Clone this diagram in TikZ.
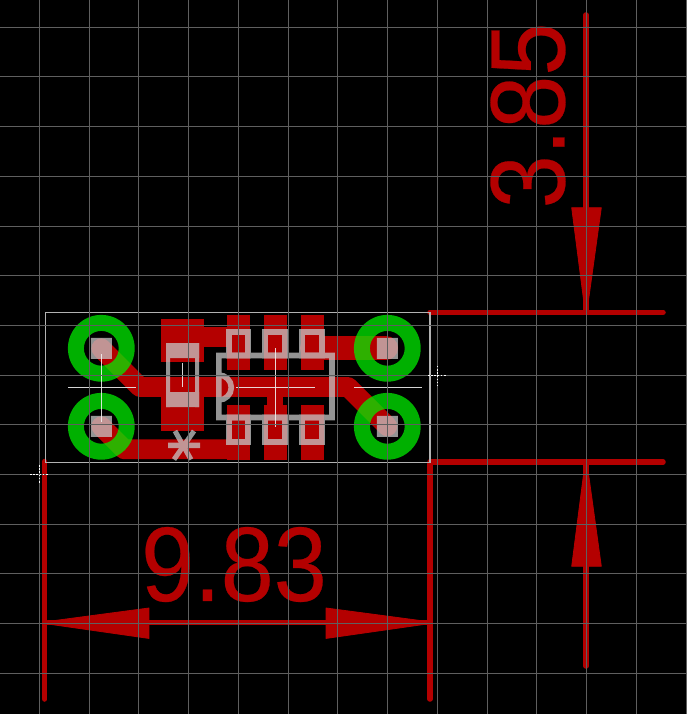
\documentclass[tikz,border=0pt]{standalone}
\usepackage{fontspec}
\setmainfont{Liberation Sans}
\newfontfamily\dimfont[FakeBold=0.25]{Liberation Sans}
\definecolor{copper}{HTML}{B40000}
\definecolor{gridc}{HTML}{5F5F5F}
\definecolor{silk}{HTML}{C6C6C6}
\definecolor{padg}{HTML}{00EE00}
\tikzset{
  trace/.style={draw=copper,line cap=round,line join=round},
  copperfill/.style={fill=copper,draw=none},
  dimline/.style={draw=copper,line width=5.5pt,line cap=round},
  dimhead/.style={fill=copper,draw=copper,line width=.8pt,line join=round},
  gridline/.style={draw=gridc,line width=1pt},
  outline/.style={draw=silk!90!black,line width=1.3pt},
  silkline/.style={draw=silk,line width=5.6pt},
  xhair/.style={draw=white!95!black,line width=1.3pt,opacity=.88},
  origin/.style={draw=white,line width=1pt,dash pattern=on 1.6pt off 1.6pt},
  dimtext/.style={text=copper,inner sep=0pt,font=\dimfont\fontsize{106}{106}\selectfont}
}
\begin{document}
\begin{tikzpicture}[x=1pt,y=-1pt]
\useasboundingbox (0,0) rectangle (687,714);
\fill[black] (0,0) rectangle (687,714);
% copper
\foreach \xa/\xb in {227/250,264/287,301/324}{
  \fill[copperfill] (\xa,315) rectangle (\xb,370);
  \fill[copperfill] (\xa,405) rectangle (\xb,460);
}
\fill[copperfill] (161,319) rectangle (204,362);
\fill[copperfill] (161,388) rectangle (204,431);
\fill[copperfill] (204,327) rectangle (227,347);
\fill[copperfill] (267,397) rectangle (283,405);
\draw[trace,line width=19.8pt] (101.3,348.3) -- (140,387) -- (348,387) -- (387.3,426.3);
\draw[trace,line width=19.8pt] (101.3,426.3) -- (124.3,449.3) -- (238,449.3);
\draw[trace,line width=24pt] (312,348) -- (386,348);
% pads
\begin{scope}[opacity=.74]
\fill[padg,even odd rule] (101.3,348.3) circle[radius=33.4] (101.3,348.3) circle[radius=17.4];
\fill[padg,even odd rule] (101.3,426.3) circle[radius=33.4] (101.3,426.3) circle[radius=17.4];
\fill[padg,even odd rule] (387.3,348.3) circle[radius=33.4] (387.3,348.3) circle[radius=17.4];
\fill[padg,even odd rule] (387.3,426.3) circle[radius=33.4] (387.3,426.3) circle[radius=17.4];
\end{scope}
% silk / outline layer
\begin{scope}[transparency group,opacity=.75]
\foreach \cx/\cy in {101.3/348.3,101.3/426.3,387.3/348.3,387.3/426.3}{
  \fill[silk] (\cx-10.5,\cy-10.5) rectangle (\cx+10.5,\cy+10.5);
}
\draw[silkline] (218.8,355.5) rectangle (332,417.5);
\draw[silkline] (218.8,375) arc[start angle=-90,end angle=90,radius=12.5];
\foreach \xa/\xb in {229/248,265/285,302/322}{
  \draw[silkline] (\xa,332) rectangle (\xb,355.5);
  \draw[silkline] (\xa,417.5) rectangle (\xb,442);
}
\fill[silk] (166,343) rectangle (199,358);
\fill[silk] (166,392) rectangle (199,407);
\fill[silk] (166,343) rectangle (170,407);
\fill[silk] (195,343) rectangle (199,407);
\draw[silk,line width=5.4pt] (168,445.3) -- (200,445.3);
\draw[silk,line width=5pt] (175,431) -- (191,459.5);
\draw[silk,line width=5pt] (194,431) -- (174,459.5);
\end{scope}
% centre crosses
\draw[xhair] (68,387.3) -- (136,387.3);
\draw[xhair] (101.3,354) -- (101.3,421.7);
\draw[xhair] (354,387.3) -- (421.7,387.3);
\draw[xhair] (236,387.3) -- (315,387.3);
\draw[xhair] (275.3,348) -- (275.3,426.7);
\draw[xhair] (182.3,363) -- (182.3,386.7);
% dimensions
\draw[dimline] (44.7,461.5) -- (44.7,699);
\draw[dimline] (430,464) -- (430,699);
\draw[dimline] (430,312.3) -- (663,312.3);
\draw[dimline] (430,462) -- (663,462);
\draw[dimline] (586,15) -- (586,312);
\draw[dimline] (586,462) -- (586,666);
\draw[dimline] (48,622.7) -- (428,622.7);
\fill[dimhead] (571.7,207.7) -- (601.3,207.7) -- (587,311) -- (585,311) -- cycle;
\fill[dimhead] (571.7,566.3) -- (601.3,566.3) -- (587,463) -- (585,463) -- cycle;
\fill[dimhead] (148.9,608) -- (148.9,638.4) -- (46,623.7) -- (46,621.7) -- cycle;
\fill[dimhead] (326.1,608) -- (326.1,638.4) -- (429,623.7) -- (429,621.7) -- cycle;
\node[dimtext,xscale=.9] (widthlabel) at (234,564.5) {9.83};
\node[dimtext,rotate=90,xscale=.9] (heightlabel) at (528,115.5) {3.85};
% board outline
\draw[outline] (45.7,312.7) rectangle (430,462.3);
% grid on top
\foreach \gx in {39,89,138,188,238,288,337,387,437,487,536,586,636,686}{
  \draw[gridline] (\gx+.5,0) -- (\gx+.5,714);
}
\foreach \gy in {27,76,126,176,226,275,325,375,424,474,524,573,623,673}{
  \draw[gridline] (0,\gy+.5) -- (687,\gy+.5);
}
% origin marks
\draw[origin] (30,474.5) -- (49,474.5);
\draw[origin] (39.5,465) -- (39.5,484);
\draw[origin] (428,375.5) -- (447,375.5);
\draw[origin] (437.5,365.7) -- (437.5,385);
\end{tikzpicture}
\end{document}
